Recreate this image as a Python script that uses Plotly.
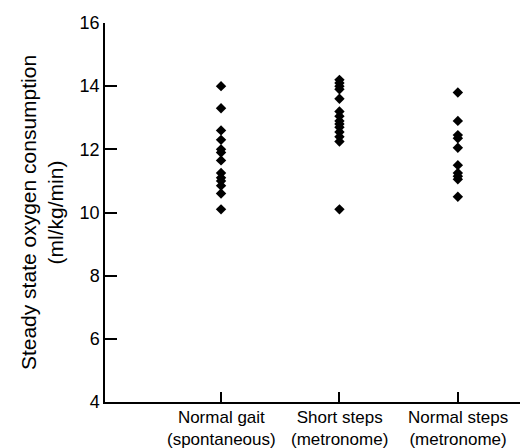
import plotly.graph_objects as go

category_line1 = ["Normal gait", "Short steps", "Normal steps"]
category_line2 = ["(spontaneous)", "(metronome)", "(metronome)"]
normal_gait = [14.0, 13.3, 12.6, 12.3, 12.0, 11.9, 11.65, 11.25, 11.1, 11.0, 10.85, 10.6, 10.1]
short_steps = [14.2, 14.1, 14.0, 13.9, 13.6, 13.2, 13.05, 12.9, 12.8, 12.7, 12.55, 12.4, 12.25, 10.1]
normal_steps = [13.8, 12.9, 12.45, 12.35, 12.05, 11.5, 11.25, 11.15, 11.05, 10.5]
y_ticks = [4, 6, 8, 10, 12, 14, 16]

font = "Liberation Sans, Arial, sans-serif"
fig = go.Figure()
for i, vals in enumerate([normal_gait, short_steps, normal_steps]):
    fig.add_trace(go.Scatter(
        x=[i] * len(vals), y=vals, mode="markers",
        marker=dict(symbol="diamond", size=8, color="black"),
        showlegend=False, cliponaxis=False))

annotations = []
for i, (l1, l2) in enumerate(zip(category_line1, category_line2)):
    annotations.append(dict(x=i, xref="x", y=-0.012, yref="paper",
                            text=l1 + "<br>" + l2,
                            showarrow=False, yanchor="top", xanchor="center",
                            borderpad=0, font=dict(size=17)))

fig.update_layout(
    width=528, height=448,
    margin=dict(l=97, r=0, t=15, b=54),
    plot_bgcolor="white", paper_bgcolor="white",
    font=dict(family=font, size=18, color="black"),
    annotations=annotations,
    xaxis=dict(range=[-0.98, 2.66], tickvals=[0, 1, 2], showticklabels=False,
               ticks="inside", ticklen=10, tickwidth=1.5, tickcolor="black",
               showline=True, linecolor="black", linewidth=1.5,
               showgrid=False, zeroline=False),
    yaxis=dict(range=[4, 16], tickvals=y_ticks,
               ticks="inside", ticklen=12, tickwidth=1.5, tickcolor="black",
               showline=True, linecolor="black", linewidth=1.5,
               showgrid=False, zeroline=False, tickfont=dict(size=18),
               title=dict(text="Steady state oxygen consumption<br>(ml/kg/min)",
                          font=dict(size=21), standoff=10)),
)
fig.write_html("out.html")
